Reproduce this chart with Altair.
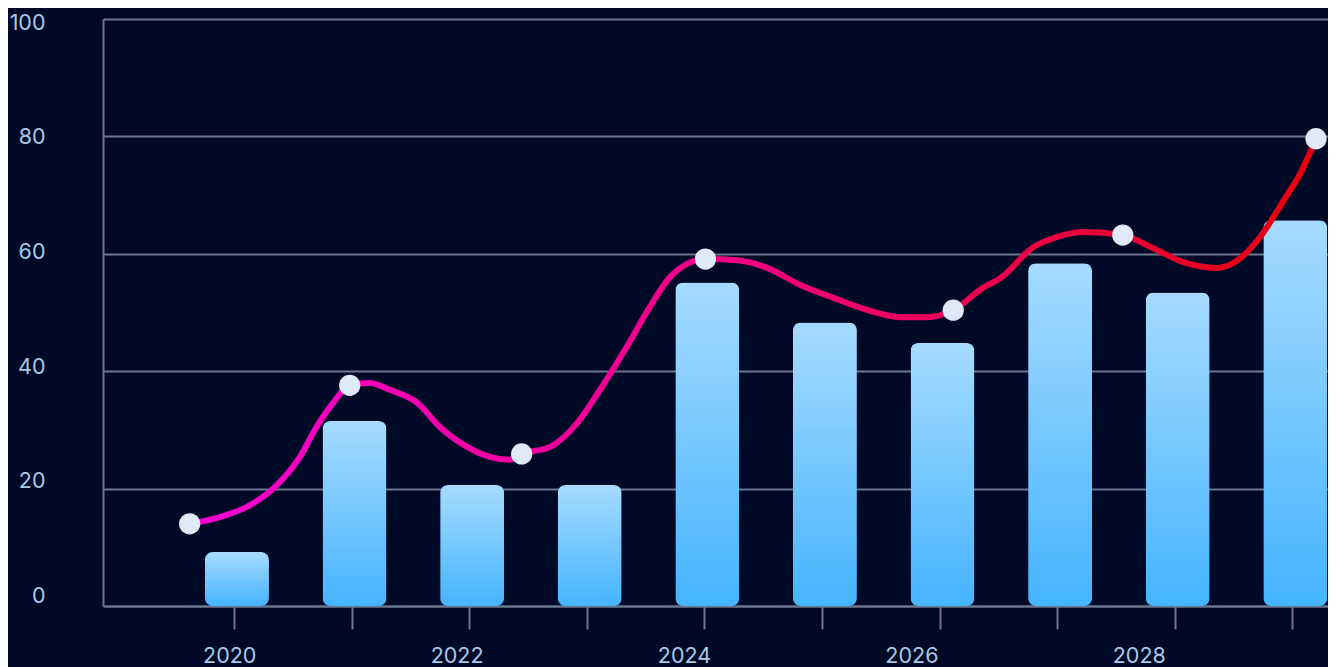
import altair as alt
import pandas as pd

# ---- data ----
bar_years = [2020, 2021, 2022, 2023, 2024, 2025, 2026, 2027, 2028, 2029]
bar_values = [9.2, 31.5, 20.6, 20.6, 55.1, 48.3, 44.8, 58.4, 53.4, 65.7]

dot_years = [2019.66, 2021.01, 2022.46, 2024.01, 2026.10, 2027.53, 2029.16]
dot_values = [14.0, 37.6, 25.9, 59.1, 50.4, 63.2, 79.6]

line_years = [2019.66, 2019.89, 2020.17, 2020.38, 2020.59, 2020.73, 2020.87, 2021.01,
              2021.18, 2021.35, 2021.58, 2021.77, 2022.00, 2022.19, 2022.36, 2022.46,
              2022.70, 2022.93, 2023.12, 2023.33, 2023.54, 2023.71, 2024.01, 2024.28,
              2024.53, 2024.81, 2025.09, 2025.38, 2025.65, 2025.88, 2026.10, 2026.35,
              2026.50, 2026.78, 2026.98, 2027.20, 2027.53, 2027.76, 2028.04, 2028.33,
              2028.46, 2028.69, 2028.89, 2029.03, 2029.16]
line_values = [14.0, 15.0, 17.2, 20.3, 25.4, 30.5, 34.6, 37.6,
               38.0, 36.8, 34.6, 30.5, 27.1, 25.4, 24.9, 25.9,
               27.1, 31.2, 36.8, 43.6, 50.9, 56.0, 59.1, 58.9,
               57.6, 54.7, 52.5, 50.4, 49.2, 49.2, 50.4, 54.2,
               55.9, 61.2, 62.9, 63.7, 63.2, 61.2, 58.6, 57.6,
               58.4, 62.9, 69.2, 73.8, 79.6]

y_ticks = [0, 20, 40, 60, 80, 100]
x_ticks = bar_years
x_labels = [2020, 2022, 2024, 2026, 2028]

bars_df = pd.DataFrame({"year": bar_years, "value": bar_values})
dots_df = pd.DataFrame({"year": dot_years, "value": dot_values})
line_df = pd.DataFrame({"year": line_years, "value": line_values})
ylab_df = pd.DataFrame({"v": y_ticks})
xlab_df = pd.DataFrame({"yr": x_labels})

BG = "#000a26"
GRID = "#6b778f"
LABEL = "#a9c9e6"
FONT = "Inter"
FS = 21.5

xscale = alt.Scale(domain=[2018.929, 2029.261], nice=False, zero=False)
yscale = alt.Scale(domain=[0, 100], nice=False)

bar_grad = alt.Gradient(
    gradient="linear",
    stops=[alt.GradientStop(color="#a6dbff", offset=0),
           alt.GradientStop(color="#45b4ff", offset=1)],
    x1=0, x2=0, y1=0, y2=1,
)
line_grad = alt.Gradient(
    gradient="linear",
    stops=[alt.GradientStop(color="#f500d2", offset=0),
           alt.GradientStop(color="#f0007e", offset=0.5),
           alt.GradientStop(color="#e6000c", offset=1)],
    x1=0, x2=1, y1=0, y2=0,
)

bars = alt.Chart(bars_df).mark_bar(
    cornerRadius=8, width=64, color=bar_grad, xOffset=3
).encode(
    x=alt.X("year:Q", scale=xscale, title=None,
            axis=alt.Axis(values=x_ticks, labels=False,
                          grid=False, domain=True, domainColor=GRID, domainWidth=2,
                          ticks=True, tickSize=23, tickColor=GRID, tickWidth=2)),
    y=alt.Y("value:Q", scale=yscale, title=None,
            axis=alt.Axis(values=y_ticks, labels=False, ticks=False,
                          grid=True, gridColor=GRID, gridWidth=2,
                          domain=True, domainColor=GRID, domainWidth=2)),
)

line = alt.Chart(line_df).mark_line(
    stroke=line_grad, strokeWidth=6, interpolate="monotone"
).encode(
    x=alt.X("year:Q", scale=xscale, axis=None),
    y=alt.Y("value:Q", scale=yscale, axis=None),
)

dots = alt.Chart(dots_df).mark_circle(
    size=452, color="#dfe9f8", opacity=1
).encode(
    x=alt.X("year:Q", scale=xscale, axis=None),
    y=alt.Y("value:Q", scale=yscale, axis=None),
)

# tick labels sit on a slightly compressed grid in the reference
ylabels = alt.Chart(ylab_df).mark_point(opacity=0).encode(
    y=alt.Y("v:Q", title=None,
            scale=alt.Scale(domain=[-1.674, 100.70], nice=False, zero=False),
            axis=alt.Axis(orient="left", values=y_ticks, grid=False, ticks=False,
                          tickSize=0, domain=False, labelColor=LABEL, labelFont=FONT,
                          labelFontSize=FS, labelPadding=58)),
)

xlabels = alt.Chart(xlab_df).mark_point(opacity=0).encode(
    x=alt.X("yr:Q", title=None,
            scale=alt.Scale(domain=[2018.89, 2029.664], nice=False, zero=False),
            axis=alt.Axis(orient="bottom", values=x_labels, format="d", grid=False,
                          ticks=False, tickSize=0, domain=False, labelColor=LABEL,
                          labelFont=FONT, labelFontSize=FS, labelPadding=39,
                          labelFlush=False)),
)

chart = alt.layer(bars, line, dots, ylabels, xlabels).resolve_scale(
    x="independent", y="independent"
).properties(
    width=1225, height=587,
    background=BG,
    autosize=alt.AutoSizeParams(type="none"),
    padding={"left": 95, "top": 11, "right": 0, "bottom": 62},
).configure_view(stroke=None)

chart.save("out.html", embed_options={"renderer": "svg", "actions": False})
